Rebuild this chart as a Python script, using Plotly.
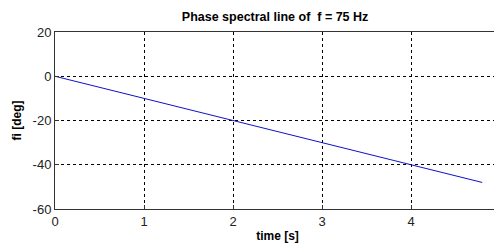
import plotly.graph_objects as go

time_s = [0, 1, 2, 3, 4, 4.8]
phase_deg = [0, -10, -20, -30, -40, -48]
x_ticks = [0, 1, 2, 3, 4, 5]
y_ticks = [-60, -40, -20, 0, 20]

fig = go.Figure()
fig.add_trace(go.Scatter(x=time_s, y=phase_deg, mode="lines",
                         line=dict(color="#1010c8", width=1)))

axis_common = dict(
    showline=True, linecolor="#333333", linewidth=1, mirror=True,
    ticks="inside", ticklen=4, tickcolor="#333333",
    showgrid=True, gridcolor="#000000", gridwidth=1, griddash="3px,3px",
    zeroline=False, automargin=False,
    tickfont=dict(family="Liberation Sans, Arial", size=13, color="#222222"),
)

fig.update_layout(
    width=502, height=250,
    margin=dict(l=47, r=10, t=24, b=49),
    paper_bgcolor="white", plot_bgcolor="white",
    showlegend=False,
    title=dict(text="<b>Phase spectral line of  f = 75 Hz</b>",
               x=0.532, xanchor="center", y=0.964, yanchor="middle",
               font=dict(family="Liberation Sans, Arial", size=12.5, color="#000000")),
    xaxis=dict(range=[0, 5], tickvals=x_ticks, ticktext=[str(v) for v in x_ticks],
               title=dict(text="<b>time [s]</b>", standoff=4,
                          font=dict(family="Liberation Sans, Arial", size=12, color="#000000")),
               **axis_common),
    yaxis=dict(range=[-60, 20], tickvals=y_ticks, ticktext=[str(v) for v in y_ticks],
               title=dict(text="<b>fi [deg]</b>", standoff=8,
                          font=dict(family="Liberation Sans, Arial", size=12, color="#000000")),
               **axis_common),
)

fig.write_html("out.html")
